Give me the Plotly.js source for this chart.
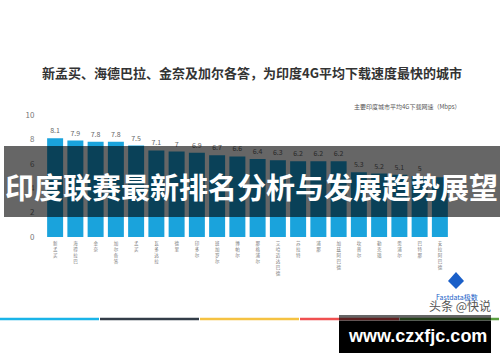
<!DOCTYPE html>
<html><head><meta charset="utf-8">
<script src="https://cdn.plot.ly/plotly-3.0.1.min.js"></script>
<style>html,body{margin:0;padding:0;background:#fff}#chart{width:500px;height:362px}</style>
</head><body><div id="chart"></div>
<script>
const cities = ['新孟买','海得拉巴','金奈','加尔各答','孟买','瓦多达拉','德里','印多尔','班加罗尔','博帕尔','那格浦尔','艾哈迈达巴德','苏拉特','浦那','加兹阿巴德','坎普尔','勒克瑙','斋浦尔','巴特那','安拉阿巴德'];
const speeds = [8.1,7.9,7.8,7.8,7.5,7.1,7,6.9,6.7,6.6,6.4,6.3,6.2,6.2,6.2,5.3,5.2,5.1,5,4.9];
const yTicks = [0,2,4,6,8,10];
const titleText = '新孟买、海德巴拉、金奈及加尔各答，为印度4G平均下载速度最快的城市';
const subtitleText = '主要印度城市平均4G下载网速（Mbps）';
const bannerText = '印度联赛最新排名分析与发展趋势展望';
const siteText = 'www.czxfjc.com';

const W = 500, H = 362, L = 45, R = 50, T = 115, B = 125;
const pw = W - L - R, ph = H - T - B;
const px = x => (x - L) / pw;
const py = y => (H - B - y) / ph;
const CJK = '"Noto Sans CJK SC", "Noto Sans", sans-serif';

// the last bar's value label is hidden in the reference
const valueLabels = speeds.map((v, i) => i < speeds.length - 1 ? String(v) : '');

const trace = {
  type: 'bar', x: cities, y: speeds,
  marker: {color: '#1aa3dc'},
  text: valueLabels, textposition: 'outside', cliponaxis: false,
  textfont: {size: 7, color: '#666', family: CJK},
  hoverinfo: 'skip'
};

const lineCols = ['#1ab4e8','#333d48','#f5c242','#f05050','#5aa040'];
const shapes = [];
lineCols.forEach((c,i) => shapes.push({type:'line', xref:'paper', yref:'paper',
  x0: px(i*100), x1: px(i*100+99), y0: py(319), y1: py(319), line:{color:c, width:2.5}, layer:'above'}));
shapes.push({type:'rect', xref:'paper', yref:'paper', x0:px(4), x1:px(500), y0:py(217), y1:py(146),
  fillcolor:'rgba(0,0,0,0.6)', line:{width:0}, layer:'above'});
shapes.push({type:'rect', xref:'paper', yref:'paper', x0:px(339), x1:px(491), y0:py(321), y1:py(315),
  fillcolor:'rgba(0,0,0,0.6)', line:{width:0}, layer:'above'});
shapes.push({type:'rect', xref:'paper', yref:'paper', x0:px(339), x1:px(491), y0:py(353), y1:py(321),
  fillcolor:'#000000', line:{width:0}, layer:'above'});
shapes.push({type:'path', xref:'paper', yref:'paper', layer:'above',
  path:`M ${px(456)} ${py(272)} L ${px(464)} ${py(281)} L ${px(456)} ${py(289)} L ${px(448)} ${py(281)} Z`,
  fillcolor:'#1a5fc8', line:{width:0}});

const ann = (text, x, y, font, extra) => Object.assign({text, xref:'paper', yref:'paper',
  x:px(x), y:py(y), xanchor:'center', yanchor:'middle', showarrow:false, font}, extra || {});

const annotations = [
  ann(titleText, 252, 72, {size:13, color:'#333', family:CJK, weight:'bold'}),
  ann(subtitleText, 463, 107, {size:6, color:'#555', family:CJK}, {xanchor:'right'}),
  ann(bannerText, 251, 186, {size:29, color:'#fff', family:CJK, weight:'bold'}),
  ann('Fastdata极数', 457, 297, {size:7, color:'#1a5fc8', family:CJK}),
  ann('头条 @快说', 460, 305, {size:12, color:'#555', family:CJK}),
  ann(siteText, 417, 336, {size:18, color:'#fff', family:'"Liberation Sans", Arial, sans-serif', weight:'bold'})
];

const layout = {
  width: W, height: H, margin:{l:L, r:R, t:T, b:B},
  paper_bgcolor:'#fff', plot_bgcolor:'#fff', showlegend:false, bargap:0.21,
  xaxis:{type:'category', tickvals:cities, ticktext:cities.map(c=>c.split('').join('<br>')),
    tickangle:0, tickfont:{size:4.5, color:'#777', family:CJK}, showline:false, showgrid:false,
    ticks:'outside', ticklen:2, tickcolor:'rgba(0,0,0,0)', range:[-0.5,19.5]},
  yaxis:{range:[0,10], tickvals:yTicks, showgrid:false, zeroline:false, showline:false,
    tickfont:{size:8, color:'#777', family:CJK}, ticks:'outside', ticklen:8, tickcolor:'rgba(0,0,0,0)'},
  shapes, annotations
};
Plotly.newPlot('chart', [trace], layout, {displayModeBar:false, staticPlot:true});
</script></body></html>
